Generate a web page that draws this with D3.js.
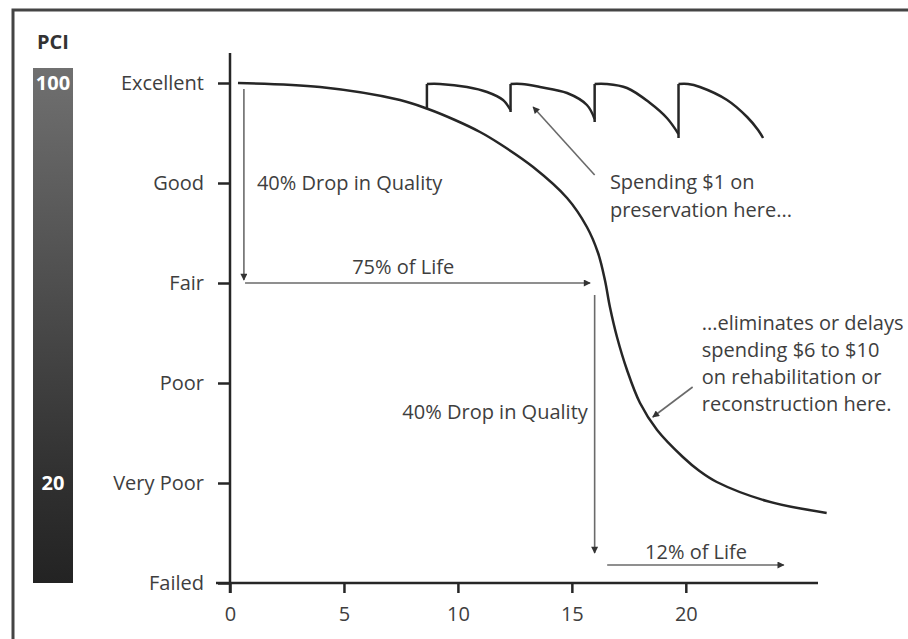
<!DOCTYPE html>
<html><head><meta charset="utf-8">
<script src="https://cdn.jsdelivr.net/npm/d3@7"></script>
<style>body{margin:0;background:#fff;} svg text{font-family:"Open Sans",sans-serif;}</style>
</head><body><svg id="c" width="908" height="639"></svg>
<script>
// ---- data ----
const levels = ["Failed", "Very Poor", "Poor", "Fair", "Good", "Excellent"];
const levelValues = [0, 1, 2, 3, 4, 5];
const xTicks = [0, 5, 10, 15, 20];
const pciLabels = [100, 20];
// main deterioration curve (years, condition level)
const curveX = [0.35, 3.95, 7.46, 8.69, 9.87, 10.97, 11.85, 13.30, 14.79, 15.66, 16.15, 16.45, 16.67, 16.98, 17.42, 17.99, 18.74, 19.87, 20.60, 21.36, 23.55, 26.18];
const curveY = [5.00, 4.96, 4.83, 4.74, 4.63, 4.51, 4.39, 4.16, 3.85, 3.56, 3.30, 3.03, 2.76, 2.46, 2.13, 1.80, 1.53, 1.26, 1.12, 1.01, 0.82, 0.70];
// preservation sawtooth segments
const sawX = [
  [8.64, 9.21, 10.40, 11.28, 11.98, 12.31],
  [12.31, 12.8, 13.6, 14.79, 15.66, 16.0],
  [16.0, 16.5, 17.42, 18.43, 19.17, 19.68],
  [19.68, 20.1, 20.62, 21.81, 22.69, 23.17, 23.39]
];
const sawY = [
  [4.99, 4.99, 4.96, 4.91, 4.83, 4.73],
  [4.99, 4.99, 4.96, 4.90, 4.78, 4.64],
  [4.99, 4.99, 4.95, 4.80, 4.65, 4.49],
  [4.99, 4.99, 4.96, 4.83, 4.66, 4.53, 4.45]
];
const sawStartY = [4.74, 4.71, 4.61, 4.45];

// ---- drawing ----
const svg = d3.select("#c");
const x = d3.scaleLinear().domain([0, 25.8]).range([230, 818]);
const y = d3.scaleLinear().domain([0, 5]).range([583, 83]);
const pci = d3.scaleLinear().domain([0, 100]).range([583, 83]);
const textCol = "#3e3e3e", arrowCol = "#6a6a6a", ink = "#262626";
const FS = 20;

const defs = svg.append("defs");
const grad = defs.append("linearGradient").attr("id", "g").attr("x1", 0).attr("x2", 0).attr("y1", 0).attr("y2", 1);
grad.append("stop").attr("offset", "0%").attr("stop-color", "#707070");
grad.append("stop").attr("offset", "45%").attr("stop-color", "#4c4c4c");
grad.append("stop").attr("offset", "80%").attr("stop-color", "#303030");
grad.append("stop").attr("offset", "100%").attr("stop-color", "#232323");
defs.append("marker").attr("id", "ah").attr("viewBox", "0 0 10 10").attr("refX", 9).attr("refY", 5)
  .attr("markerWidth", 8).attr("markerHeight", 7).attr("markerUnits", "userSpaceOnUse").attr("orient", "auto")
  .append("path").attr("d", "M0,0 L10,5 L0,10 z").attr("fill", "#333");

// frame
svg.append("path").attr("d", "M13,639 V10 H908").attr("fill", "none").attr("stroke", "#444").attr("stroke-width", 3);

// PCI bar
svg.append("rect").attr("x", 33).attr("width", 40).attr("y", pci(103)).attr("height", pci(0) - pci(103)).attr("fill", "url(#g)");
svg.append("text").attr("x", 53).attr("y", 49).attr("text-anchor", "middle").attr("font-weight", "bold").attr("font-size", FS).attr("fill", "#333").text("PCI");
svg.selectAll(".pl").data(pciLabels).join("text").attr("class", "pl").attr("x", 53).attr("y", d => pci(d) + 7)
  .attr("text-anchor", "middle").attr("font-weight", "bold").attr("font-size", FS).attr("fill", "#fff").text(d => d);

// axes
const yAxis = svg.append("g").attr("transform", `translate(${x(0)},0)`)
  .call(d3.axisLeft(y).tickValues(levelValues).tickFormat(d => levels[d]).tickSize(12).tickPadding(14));
const xAxis = svg.append("g").attr("transform", `translate(0,${y(0)})`)
  .call(d3.axisBottom(x).tickValues(xTicks).tickSize(10).tickPadding(14));
[yAxis, xAxis].forEach(g => {
  g.select(".domain").remove();
  g.selectAll("line").attr("stroke", ink).attr("stroke-width", 2.5);
  g.selectAll("text").attr("font-size", FS).attr("fill", textCol).style("font-family", '"Open Sans",sans-serif');
});
svg.append("line").attr("x1", x(0)).attr("x2", x(0)).attr("y1", y(5.3)).attr("y2", y(0) + 10).attr("stroke", ink).attr("stroke-width", 2.5);
svg.append("line").attr("x1", x(0) - 14).attr("x2", x(25.8)).attr("y1", y(0)).attr("y2", y(0)).attr("stroke", ink).attr("stroke-width", 2.5);

// main curve
const line = d3.line().x(d => x(d[0])).y(d => y(d[1])).curve(d3.curveCatmullRom.alpha(0.5));
svg.append("path").datum(curveX.map((v, i) => [v, curveY[i]])).attr("d", line)
  .attr("fill", "none").attr("stroke", ink).attr("stroke-width", 2.5);

// sawtooth
sawX.forEach((xs, k) => {
  svg.append("line").attr("x1", x(xs[0])).attr("x2", x(xs[0])).attr("y1", y(sawStartY[k])).attr("y2", y(sawY[k][0]))
    .attr("stroke", ink).attr("stroke-width", 2.5);
  svg.append("path").datum(xs.map((v, i) => [v, sawY[k][i]])).attr("d", line)
    .attr("fill", "none").attr("stroke", ink).attr("stroke-width", 2.5);
});

// annotation arrows (data units)
const arrows = [
  [[0.61, 4.94], [0.61, 3.03]],
  [[0.66, 3.0], [15.8, 3.0]],
  [[16.0, 2.88], [16.0, 0.30]],
  [[16.55, 0.18], [24.3, 0.18]],
  [[16.0, 4.08], [13.3, 4.76]],
  [[20.3, 1.96], [18.55, 1.66]]
];
arrows.forEach(a => {
  svg.append("line").attr("x1", x(a[0][0])).attr("y1", y(a[0][1])).attr("x2", x(a[1][0])).attr("y2", y(a[1][1]))
    .attr("stroke", arrowCol).attr("stroke-width", 1.6).attr("marker-end", "url(#ah)");
});

// annotation texts
function label(tx, ty, str, anchor) {
  svg.append("text").attr("x", x(tx)).attr("y", y(ty)).attr("text-anchor", anchor || "start")
    .attr("font-size", FS).attr("fill", textCol).text(str);
}
label(1.18, 3.93, "40% Drop in Quality");
label(7.6, 3.09, "75% of Life", "middle");
label(15.7, 1.64, "40% Drop in Quality", "end");
label(20.45, 0.24, "12% of Life", "middle");
label(16.67, 3.94, "Spending $1 on");
label(16.67, 3.66, "preservation here...");
label(20.7, 2.53, "...eliminates or delays");
label(20.7, 2.26, "spending $6 to $10");
label(20.7, 1.99, "on rehabilitation or");
label(20.7, 1.72, "reconstruction here.");
</script></body></html>
